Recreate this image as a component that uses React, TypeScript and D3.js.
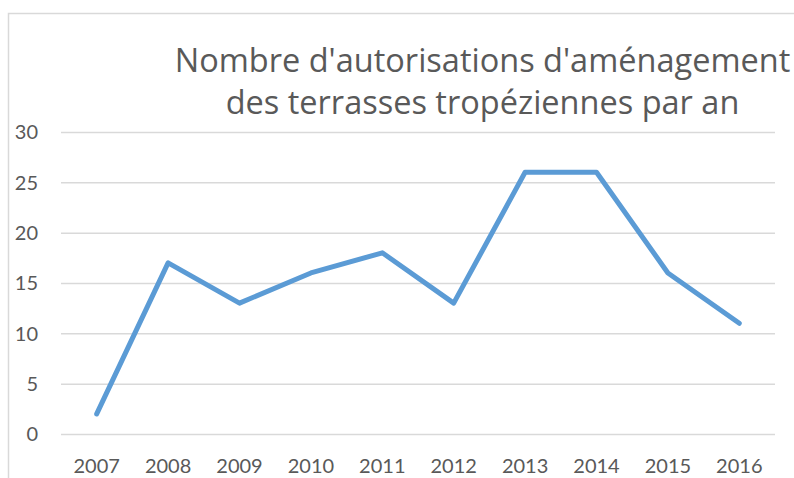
import { useRef, useEffect } from "react";
import * as d3 from "d3";

const years = ["2007", "2008", "2009", "2010", "2011", "2012", "2013", "2014", "2015", "2016"];
const counts = [2, 17, 13, 16, 18, 13, 26, 26, 16, 11];
const yTicks = [0, 5, 10, 15, 20, 25, 30];
const titleLines = ["Nombre d'autorisations d'aménagement", "des terrasses tropéziennes par an"];

const W = 794;
const H = 478;

export default function App() {
  const ref = useRef<SVGSVGElement | null>(null);

  useEffect(() => {
    if (!ref.current) return;
    const svg = d3.select(ref.current);
    svg.selectAll("*").remove();

    const margin = { top: 132, right: 19, bottom: 44, left: 61 };
    const font = "Lato, 'Open Sans', sans-serif";

    // chart frame (clipped at right/bottom)
    svg.append("rect").attr("width", W).attr("height", H).attr("fill", "#fff");
    svg
      .append("path")
      .attr("d", `M8.5,${H} V13.5 H${W}`)
      .attr("fill", "none")
      .attr("stroke", "#d9d9d9")
      .attr("stroke-width", 1.5);

    const x = d3
      .scaleBand<string>()
      .domain(years)
      .range([margin.left, W - margin.right]);

    const y = d3
      .scaleLinear()
      .domain([0, 30])
      .range([H - margin.bottom, margin.top]);

    // gridlines
    svg
      .append("g")
      .selectAll("line")
      .data(yTicks)
      .join("line")
      .attr("x1", margin.left)
      .attr("x2", W - margin.right)
      .attr("y1", (d) => y(d) + 0.5)
      .attr("y2", (d) => y(d) + 0.5)
      .attr("stroke", "#d9d9d9")
      .attr("stroke-width", 1.5);

    // y labels
    svg
      .append("g")
      .selectAll("text")
      .data(yTicks)
      .join("text")
      .attr("x", 38)
      .attr("y", (d) => y(d))
      .attr("dy", "0.36em")
      .attr("text-anchor", "end")
      .attr("font-family", font)
      .attr("font-size", 20)
      .attr("fill", "#595959")
      .text((d) => d);

    // x labels
    svg
      .append("g")
      .selectAll("text")
      .data(years)
      .join("text")
      .attr("x", (d) => (x(d) ?? 0) + x.bandwidth() / 2)
      .attr("y", 473)
      .attr("text-anchor", "middle")
      .attr("font-family", font)
      .attr("font-size", 20)
      .attr("fill", "#595959")
      .text((d) => d);

    // line
    const line = d3
      .line<number>()
      .x((_, i) => (x(years[i]) ?? 0) + x.bandwidth() / 2)
      .y((d) => y(d));

    svg
      .append("path")
      .datum(counts)
      .attr("d", line)
      .attr("fill", "none")
      .attr("stroke", "#5b9bd5")
      .attr("stroke-width", 5)
      .attr("stroke-linecap", "round")
      .attr("stroke-linejoin", "round");

    // title
    svg
      .append("g")
      .selectAll("text")
      .data(titleLines)
      .join("text")
      .attr("x", 482.5)
      .attr("y", (_, i) => 72 + i * 42)
      .attr("text-anchor", "middle")
      .attr("font-family", "'Open Sans', sans-serif")
      .attr("font-size", 32.5)
      .attr("fill", "#595959")
      .text((d) => d);
  }, []);

  return (
    <svg
      ref={ref}
      width={W}
      height={H}
      style={{ position: "absolute", left: 0, top: 0 }}
    />
  );
}
